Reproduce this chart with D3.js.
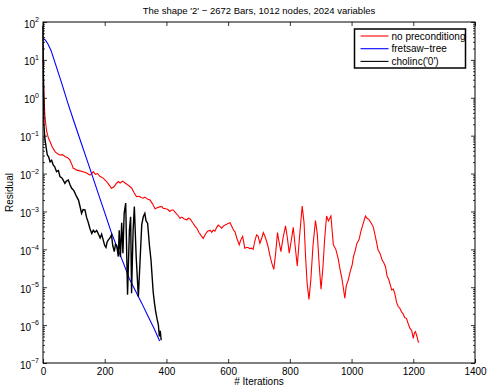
<!DOCTYPE html>
<html>
<head>
<meta charset="utf-8">
<script src="https://cdn.jsdelivr.net/npm/d3@7"></script>
<style>
  body { margin: 0; background: #fff; }
  svg { font-family: "Liberation Sans", Arial, Helvetica, sans-serif; }
</style>
</head>
<body>
<div id="chart"></div>
<script>
// [iteration, log10(residual)]
const noPrecond = [[0,1.0],[1,0.9],[2,0.43],[4,-0.1],[6,-0.45],[9,-0.7],[12,-0.89],[17,-1.05],[23,-1.16],[30,-1.3],[39,-1.42],[47,-1.48],[55,-1.51],[63,-1.5],[71,-1.55],[80,-1.58],[87,-1.64],[93,-1.75],[98,-1.86],[104,-1.88],[109,-1.91],[120,-1.93],[130,-1.95],[140,-1.98],[152,-2.04],[158,-2.0],[163,-1.95],[170,-2.02],[177,-2.0],[185,-2.08],[195,-2.12],[206,-2.21],[214,-2.3],[222,-2.39],[230,-2.35],[236,-2.28],[244,-2.21],[250,-2.25],[258,-2.2],[266,-2.25],[275,-2.3],[287,-2.38],[295,-2.5],[303,-2.61],[312,-2.6],[318,-2.63],[324,-2.65],[330,-2.62],[340,-2.68],[347,-2.7],[355,-2.8],[363,-2.93],[370,-2.9],[378,-2.88],[385,-2.87],[390,-2.92],[398,-2.93],[405,-2.95],[411,-3.0],[417,-2.96],[422,-2.96],[430,-3.04],[437,-3.1],[444,-3.18],[450,-3.15],[458,-3.2],[466,-3.22],[472,-3.18],[477,-3.2],[485,-3.3],[492,-3.38],[498,-3.44],[505,-3.55],[512,-3.63],[519,-3.71],[525,-3.62],[530,-3.55],[536,-3.51],[542,-3.5],[547,-3.55],[552,-3.49],[557,-3.52],[563,-3.42],[568,-3.36],[574,-3.4],[579,-3.44],[585,-3.38],[592,-3.35],[600,-3.32],[606,-3.3],[612,-3.4],[618,-3.5],[622,-3.53],[628,-3.7],[636,-3.88],[641,-3.75],[647,-3.66],[654,-3.97],[660,-3.95],[665,-3.95],[670,-3.98],[676,-3.97],[681,-4.0],[686,-3.8],[692,-3.62],[697,-3.65],[703,-3.84],[709,-3.7],[714,-3.56],[719,-3.65],[725,-3.8],[730,-3.95],[735,-4.15],[741,-4.35],[748,-4.53],[754,-4.1],[760,-3.56],[765,-3.8],[771,-4.06],[778,-3.7],[786,-3.38],[792,-3.7],[798,-4.1],[804,-3.8],[811,-3.42],[817,-3.9],[824,-4.44],[832,-3.6],[840,-2.86],[846,-3.3],[851,-4.2],[856,-4.9],[862,-5.32],[868,-4.8],[875,-3.9],[883,-3.24],[889,-3.6],[895,-4.4],[901,-5.05],[907,-4.5],[913,-3.7],[919,-3.12],[925,-3.25],[933,-3.12],[937,-3.5],[941,-3.88],[949,-4.0],[957,-4.26],[962,-4.5],[968,-4.74],[973,-5.0],[978,-5.29],[983,-4.95],[989,-4.82],[995,-4.6],[1002,-4.41],[1006,-4.2],[1011,-4.06],[1017,-3.85],[1024,-3.75],[1031,-3.5],[1038,-3.31],[1045,-3.12],[1050,-3.18],[1056,-3.21],[1063,-3.3],[1070,-3.4],[1078,-3.7],[1086,-4.02],[1092,-4.1],[1099,-4.28],[1104,-4.35],[1110,-4.46],[1115,-4.7],[1121,-4.81],[1126,-4.95],[1130,-5.07],[1135,-5.05],[1140,-5.16],[1146,-5.4],[1151,-5.51],[1156,-5.55],[1162,-5.65],[1167,-5.7],[1172,-5.8],[1178,-5.82],[1183,-5.95],[1189,-6.08],[1195,-6.15],[1200,-6.35],[1204,-6.2],[1207,-6.17],[1212,-6.3],[1216,-6.44],[1219,-6.45]];

const fretsaw = [[0,1.57],[8,1.52],[16,1.42],[26,1.25],[40,0.9],[60,0.4],[80,-0.13],[100,-0.62],[120,-1.1],[140,-1.58],[160,-2.06],[180,-2.55],[200,-3.03],[220,-3.52],[240,-3.95],[260,-4.35],[280,-4.78],[300,-5.1],[320,-5.42],[340,-5.76],[360,-6.09],[378,-6.42]];

const cholinc = [[0,1.9],[1,0.8],[2,0.0],[3,-0.72],[6,-1.06],[10,-1.3],[14,-1.51],[18,-1.55],[23,-1.69],[28,-1.65],[33,-1.77],[38,-1.82],[44,-1.95],[50,-1.92],[55,-2.08],[62,-2.12],[71,-2.26],[76,-2.2],[82,-2.17],[88,-2.3],[93,-2.39],[100,-2.45],[109,-2.61],[115,-2.7],[120,-2.87],[125,-3.05],[130,-2.95],[136,-2.96],[141,-3.15],[147,-3.3],[152,-3.45],[158,-3.58],[163,-3.5],[168,-3.55],[174,-3.5],[180,-3.6],[185,-3.7],[190,-3.6],[195,-3.75],[200,-3.9],[204,-3.95],[208,-3.8],[212,-3.75],[217,-3.7],[222,-3.62],[226,-3.9],[231,-4.06],[235,-3.86],[239,-3.9],[244,-4.19],[247,-3.5],[251,-4.2],[255,-3.3],[259,-4.1],[263,-3.05],[268,-2.78],[274,-5.2],[280,-3.5],[284,-3.14],[287,-5.16],[292,-3.5],[296,-2.87],[302,-4.2],[309,-5.25],[314,-4.4],[320,-3.35],[325,-3.14],[330,-3.05],[334,-3.25],[339,-3.31],[345,-3.9],[350,-4.28],[357,-5.12],[361,-5.4],[365,-5.64],[370,-5.85],[374,-6.0],[377,-6.3],[380,-6.15],[383,-6.4]];

const seriesNames = ["no preconditiong", "fretsaw\u2212tree", "cholinc('0')"];
const seriesColors = ["#ff0000", "#0000ff", "#000000"];
const xTicks = [0, 200, 400, 600, 800, 1000, 1200, 1400];
const yExponents = [-7, -6, -5, -4, -3, -2, -1, 0, 1, 2];
const title = "The shape '2' \u2212 2672 Bars, 1012 nodes, 2024 variables";

const W = 487, H = 388;
const margin = { top: 22, right: 12, bottom: 25, left: 43 };
const width = W - margin.left - margin.right;
const height = H - margin.top - margin.bottom;

const svg = d3.select('#chart').append('svg')
  .attr('width', W)
  .attr('height', H);

const g = svg.append('g')
  .attr('transform', `translate(${margin.left},${margin.top})`);

const x = d3.scaleLinear().domain([0, 1400]).range([0, width]);
const y = d3.scaleLog().domain([1e-7, 1e2]).range([height, 0]);

// minor ticks 2..9 in each decade
const minor = [];
yExponents.slice(0, -1).forEach(e => {
  for (let k = 2; k <= 9; k++) minor.push(k * Math.pow(10, e));
});

const line = d3.line()
  .x(d => x(d[0]))
  .y(d => y(Math.pow(10, d[1])));

g.append('path').datum(noPrecond)
  .attr('d', line).attr('fill', 'none')
  .attr('stroke', seriesColors[0]).attr('stroke-width', 1.1);
g.append('path').datum(fretsaw)
  .attr('d', line).attr('fill', 'none')
  .attr('stroke', seriesColors[1]).attr('stroke-width', 1.1);
g.append('path').datum(cholinc)
  .attr('d', line).attr('fill', 'none')
  .attr('stroke', seriesColors[2]).attr('stroke-width', 1.4);

// axes, matlab style: ticks inside on all four sides
const styleAxis = sel => {
  sel.select('.domain').remove();
  sel.selectAll('.tick line').attr('stroke', '#000').attr('stroke-width', 0.8);
  sel.selectAll('text').attr('font-size', '10px').attr('fill', '#000');
};

g.append('g')
  .attr('transform', `translate(0,${height})`)
  .call(d3.axisBottom(x).tickValues(xTicks).tickSizeInner(-4).tickSizeOuter(0)
    .tickPadding(5).tickFormat(d3.format('d')))
  .call(styleAxis);

g.append('g')
  .call(d3.axisTop(x).tickValues(xTicks).tickSizeInner(-4).tickSizeOuter(0).tickFormat(''))
  .call(styleAxis);

const yLeft = g.append('g')
  .call(d3.axisLeft(y).tickValues(yExponents.map(e => Math.pow(10, e)))
    .tickSizeInner(-4).tickSizeOuter(0).tickPadding(9).tickFormat(() => '10'))
  .call(styleAxis);

yLeft.selectAll('.tick text')
  .attr('dy', '0.5em')
  .attr('x', -9)
  .each(function(d, i) {
    d3.select(this).append('tspan')
      .attr('dy', '-0.75em')
      .attr('font-size', '7px')
      .text(yExponents[i] < 0 ? '\u2212' + Math.abs(yExponents[i]) : yExponents[i]);
  });

yLeft.selectAll('.tick text').attr('x', function() {
  return -4 - this.getComputedTextLength();
}).attr('text-anchor', 'start');

g.append('g')
  .call(d3.axisLeft(y).tickValues(minor).tickSizeInner(-2).tickSizeOuter(0).tickFormat(''))
  .call(styleAxis);

g.append('g')
  .attr('transform', `translate(${width},0)`)
  .call(d3.axisRight(y).tickValues(yExponents.map(e => Math.pow(10, e))).tickSizeInner(-4).tickSizeOuter(0).tickFormat(''))
  .call(styleAxis);

g.append('g')
  .attr('transform', `translate(${width},0)`)
  .call(d3.axisRight(y).tickValues(minor).tickSizeInner(-2).tickSizeOuter(0).tickFormat(''))
  .call(styleAxis);

// box
g.append('rect')
  .attr('width', width).attr('height', height)
  .attr('fill', 'none').attr('stroke', '#000').attr('stroke-width', 1);

// labels
svg.append('text')
  .attr('x', margin.left + width / 2).attr('y', 14)
  .attr('text-anchor', 'middle').attr('font-size', '9.5px')
  .text(title);

svg.append('text')
  .attr('x', margin.left + width / 2).attr('y', 385)
  .attr('text-anchor', 'middle').attr('font-size', '10px')
  .text('# Iterations');

svg.append('text')
  .attr('transform', `translate(13,${margin.top + height / 2}) rotate(-90)`)
  .attr('text-anchor', 'middle').attr('font-size', '10px')
  .text('Residual');

// legend
const lg = svg.append('g').attr('transform', 'translate(354.5,29)');
lg.append('rect')
  .attr('width', 111).attr('height', 39)
  .attr('fill', '#fff').attr('stroke', '#000').attr('stroke-width', 1.5);

seriesNames.forEach((name, i) => {
  const row = lg.append('g').attr('transform', `translate(0,${7 + i * 12.7})`);
  row.append('line')
    .attr('x1', 6).attr('x2', 34).attr('y1', 0).attr('y2', 0)
    .attr('stroke', seriesColors[i]).attr('stroke-width', 1.1);
  row.append('text')
    .attr('x', 37).attr('y', 3.5)
    .attr('font-size', '10px')
    .text(name);
});
</script>
</body>
</html>
